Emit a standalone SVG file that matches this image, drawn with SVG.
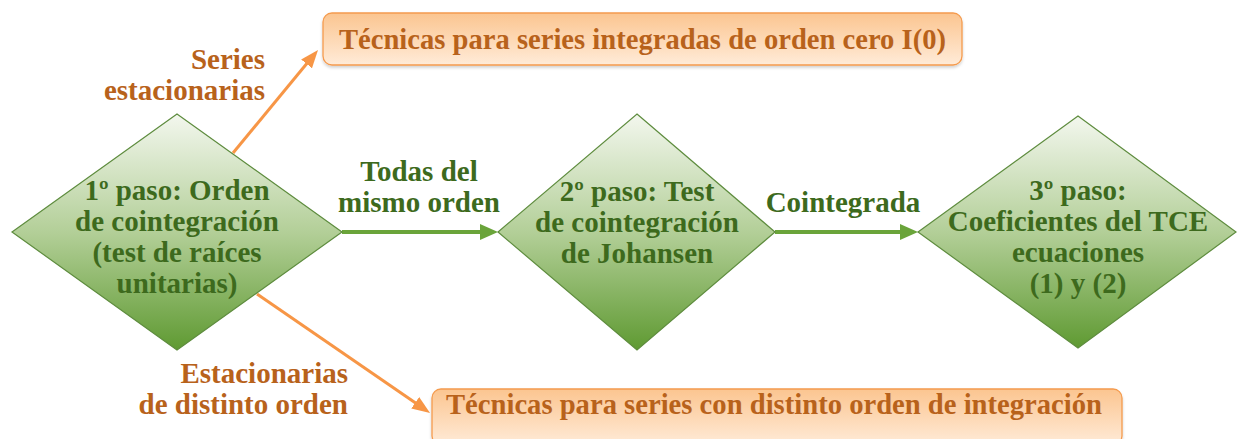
<svg xmlns="http://www.w3.org/2000/svg" width="1237" height="439" viewBox="0 0 1237 439">
<style>
text{font-family:"Liberation Serif","Times New Roman",serif;font-weight:bold;font-size:29px}
.g{fill:#3D6A1D;text-anchor:middle}
.o{fill:#B8621B;font-size:30px}
.oe{fill:#B8621B;text-anchor:end}
.dia{fill:url(#gd);stroke:#5E8C3E;stroke-width:1.2}
.box{fill:url(#go);stroke:#F59B4E;stroke-width:1.3;filter:url(#sh)}
.ga{stroke:#6AA43A;stroke-width:4;fill:none;marker-end:url(#mg)}
.oa{stroke:#F79646;stroke-width:3;fill:none;marker-end:url(#mo)}
</style>
<defs>
<linearGradient id="gd" x1="0" y1="0" x2="0" y2="1">
<stop offset="0" stop-color="#F3F7EE"/>
<stop offset="0.5" stop-color="#B3CF98"/>
<stop offset="1" stop-color="#5F9A32"/>
</linearGradient>
<linearGradient id="go" x1="0" y1="0" x2="0" y2="1">
<stop offset="0" stop-color="#FBC590"/>
<stop offset="1" stop-color="#FFEBD8"/>
</linearGradient>
<filter id="sh" x="-5%" y="-20%" width="110%" height="150%">
<feDropShadow dx="0" dy="2" stdDeviation="1.5" flood-color="#000" flood-opacity="0.18"/>
</filter>
<marker id="mg" viewBox="0 0 18 16" refX="4" refY="8" markerWidth="18" markerHeight="16" markerUnits="userSpaceOnUse" orient="auto">
<path d="M0,0 L18,8 L0,16 z" fill="#6AA43A"/>
</marker>
<marker id="mo" viewBox="0 0 18 14" refX="4" refY="7" markerWidth="18" markerHeight="14" markerUnits="userSpaceOnUse" orient="auto">
<path d="M0,0 L18,7 L0,14 z" fill="#F79646"/>
</marker>
</defs>
<rect width="1237" height="439" fill="#FFFFFF"/>
<g id="connectors">
<line class="ga" x1="342" y1="232" x2="484" y2="232"/>
<line class="ga" x1="775" y1="232" x2="904" y2="232"/>
<line class="oa" x1="233" y1="153" x2="309.1" y2="60.8"/>
<line class="oa" x1="257" y1="294" x2="418.5" y2="405.1"/>
<text class="oe" x="265" y="69">Series</text>
<text class="oe" x="265" y="100">estacionarias</text>
<text class="g" x="419" y="181">Todas del</text>
<text class="g" x="419" y="212">mismo orden</text>
<text class="g" x="843" y="212">Cointegrada</text>
<text class="oe" x="348" y="383">Estacionarias</text>
<text class="oe" x="348" y="414">de distinto orden</text>
</g>
<g id="paso1">
<polygon class="dia" points="177,114 342,232 177,350 12,232"/>
<text class="g" x="177" y="200">1º paso: Orden</text>
<text class="g" x="177" y="231">de cointegración</text>
<text class="g" x="177" y="262">(test de raíces</text>
<text class="g" x="177" y="293">unitarias)</text>
</g>
<g id="paso2">
<polygon class="dia" points="637,114 775,232 637,350 498,232"/>
<text class="g" x="637" y="201">2º paso: Test</text>
<text class="g" x="637" y="232">de cointegración</text>
<text class="g" x="637" y="263">de Johansen</text>
</g>
<g id="paso3">
<polygon class="dia" points="1078,116 1236,232 1078,348 918,232"/>
<text class="g" x="1078" y="200">3º paso:</text>
<text class="g" x="1078" y="231">Coeficientes del TCE</text>
<text class="g" x="1078" y="262">ecuaciones</text>
<text class="g" x="1078" y="293">(1) y (2)</text>
</g>
<g id="box-i0">
<rect class="box" x="323" y="13" width="639" height="52" rx="9"/>
<text class="o" x="339" y="49" textLength="607" lengthAdjust="spacingAndGlyphs">Técnicas para series integradas de orden cero I(0)</text>
</g>
<g id="box-distinto">
<rect class="box" x="432" y="389" width="690" height="56" rx="9"/>
<text class="o" x="446" y="414" textLength="656" lengthAdjust="spacingAndGlyphs">Técnicas para series con distinto orden de integración</text>
</g>
</svg>
